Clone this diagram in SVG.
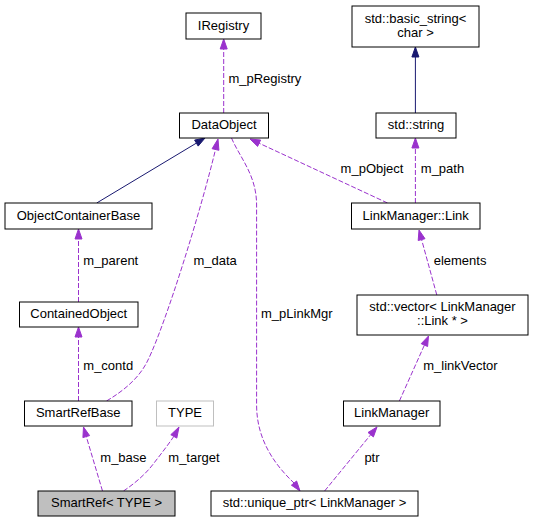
<svg xmlns="http://www.w3.org/2000/svg" width="533" height="523" viewBox="0 0 533 523">
<style>
.n rect{fill:#fff;stroke:#000;stroke-width:1}
text{font-family:"Liberation Sans",Arial,sans-serif;font-size:13px;fill:#000}
.n text{text-anchor:middle}
.d{fill:none;stroke:#9a32cd;stroke-width:1;stroke-dasharray:5,2}
.s{fill:none;stroke:#191970;stroke-width:1}
.ap{fill:#9a32cd;stroke:#9a32cd;stroke-width:1}
.an{fill:#191970;stroke:#191970;stroke-width:1}
</style>
<rect width="533" height="523" fill="#fff"/>
<g id="connectors">
<!-- m_pRegistry -->
<path class="d" d="M223.7,113 L223.7,49"/>
<polygon class="ap" points="220.2,49 223.7,39 227.2,49"/>
<text x="228.4" y="83">m_pRegistry</text>
<!-- basic_string inheritance -->
<path class="s" d="M415.4,113 L415.4,57"/>
<polygon class="an" points="411.9,57 415.4,47 418.9,57"/>
<!-- ObjectContainerBase inheritance -->
<path class="s" d="M96.7,203 L196.4,143.1"/>
<polygon class="an" points="194.6,140.1 205,138 198.2,146.1"/>
<!-- m_parent -->
<path class="d" d="M78.5,302 L78.5,239"/>
<polygon class="ap" points="75,239 78.5,229 82,239"/>
<text x="83.3" y="265">m_parent</text>
<!-- m_contd -->
<path class="d" d="M78.5,401 L78.5,337"/>
<polygon class="ap" points="75,337 78.5,327 82,337"/>
<text x="83.3" y="370">m_contd</text>
<!-- m_data -->
<path class="d" d="M106.5,401 C125,390 140,377 148,360 C166,323 201,210 215.5,149.5"/>
<polygon class="ap" points="212.1,148.7 218,139 218.9,150.3"/>
<text x="193.4" y="265">m_data</text>
<!-- m_pLinkMgr -->
<path class="d" d="M231.5,138 C240,158 256.6,175 256.6,205 L256.6,405 C256.6,440 275,465 294,483"/>
<polygon class="ap" points="291.4,485.2 300,491 296.6,481"/>
<text x="261" y="318">m_pLinkMgr</text>
<!-- m_pObject -->
<path class="d" d="M387.5,203 L259.1,143.2"/>
<polygon class="ap" points="260.6,140 250,139 257.6,146.4"/>
<text x="340.6" y="173">m_pObject</text>
<!-- m_path -->
<path class="d" d="M415.4,203 L415.4,148"/>
<polygon class="ap" points="411.9,148 415.4,138 418.9,148"/>
<text x="420.8" y="173">m_path</text>
<!-- elements -->
<path class="d" d="M436.8,295 L421.6,239.6"/>
<polygon class="ap" points="418.2,240.5 419,230 425,238.7"/>
<text x="433.7" y="265">elements</text>
<!-- m_linkVector -->
<path class="d" d="M399.4,401 L424.4,345.1"/>
<polygon class="ap" points="421.2,343.7 428.5,336 427.6,346.5"/>
<text x="423.2" y="370">m_linkVector</text>
<!-- ptr -->
<path class="d" d="M324.6,491 L370.7,434.7"/>
<polygon class="ap" points="368,432.5 377,427 373.4,436.9"/>
<text x="364.4" y="462">ptr</text>
<!-- m_base -->
<path class="d" d="M102.5,491 L86.3,436.6"/>
<polygon class="ap" points="82.9,437.6 83.5,427 89.6,435.6"/>
<text x="100.3" y="462">m_base</text>
<!-- m_target -->
<path class="d" d="M123.5,491 C134,484 146,474 154,463 C161,454 168,445 173.8,436.4"/>
<polygon class="ap" points="170.8,434.7 179,427 176.8,438.1"/>
<text x="168.3" y="462">m_target</text>
</g>
<g id="IRegistry" class="n"><rect x="186" y="13" width="75" height="26"/><text x="223.5" y="30">IRegistry</text></g>
<g id="basic_string" class="n"><rect x="352" y="6" width="127" height="41"/><text x="415.5" y="23">std::basic_string&lt;</text><text x="415.5" y="37">char &gt;</text></g>
<g id="DataObject" class="n"><rect x="179.5" y="113" width="89" height="25"/><text x="224" y="129">DataObject</text></g>
<g id="std_string" class="n"><rect x="376" y="113" width="80" height="25"/><text x="416" y="129">std::string</text></g>
<g id="ObjectContainerBase" class="n"><rect x="5" y="203" width="147" height="26"/><text x="78.5" y="219.5">ObjectContainerBase</text></g>
<g id="LinkManager_Link" class="n"><rect x="351.5" y="203" width="128.5" height="26"/><text x="415.7" y="219.5">LinkManager::Link</text></g>
<g id="ContainedObject" class="n"><rect x="19.5" y="302" width="118.5" height="25"/><text x="78.7" y="318">ContainedObject</text></g>
<g id="vector" class="n"><rect x="357" y="295" width="171" height="40"/><text x="442.5" y="311">std::vector&lt; LinkManager</text><text x="442.5" y="325">::Link * &gt;</text></g>
<g id="SmartRefBase" class="n"><rect x="24.5" y="401" width="107.5" height="25"/><text x="78.2" y="417">SmartRefBase</text></g>
<g id="TYPE" class="n"><rect x="156.5" y="401" width="57" height="25" style="stroke:#bfbfbf"/><text x="185" y="417">TYPE</text></g>
<g id="LinkManager" class="n"><rect x="343.5" y="401" width="96.5" height="25"/><text x="391.7" y="417">LinkManager</text></g>
<g id="SmartRef" class="n"><rect x="38" y="491" width="137" height="25" style="fill:#bfbfbf"/><text x="106.5" y="507">SmartRef&lt; TYPE &gt;</text></g>
<g id="unique_ptr" class="n"><rect x="211" y="491" width="207" height="25"/><text x="314.5" y="507">std::unique_ptr&lt; LinkManager &gt;</text></g>
</svg>
